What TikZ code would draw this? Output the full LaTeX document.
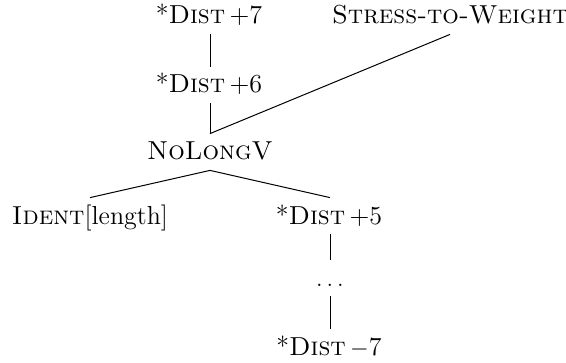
\documentclass[tikz,border=0pt]{standalone}
\begin{document}
\begin{tikzpicture}[x=0.5pt,y=-0.5pt,
  lab/.style={anchor=base,inner xsep=0pt,inner ysep=3pt,text height=10pt,text depth=2pt,font=\fontsize{13}{15}\selectfont},
  edge/.style={draw=black,line width=0.5pt}]
\useasboundingbox (0,0) rectangle (566,363);
\node[lab] (d7) at (209,24) {*\textsc{Dist}\,+7};
\node[lab] (sw) at (450,24) {\textsc{Stress-to-Weight}};
\node[lab] (d6) at (209,93) {*\textsc{Dist}\,+6};
\node[lab] (nl) at (210,160) {\textsc{NoLongV}};
\node[lab] (id) at (90,224) {\textsc{Ident}[length]};
\node[lab] (d5) at (329,224) {*\textsc{Dist}\,+5};
\node[lab] (dots) at (330,286) {$\ldots$};
\node[lab] (dm7) at (329,355) {*\textsc{Dist}\,$-$7};
\coordinate (d7s) at (d7.south -| 210,0);
\coordinate (d6n) at (d6.north -| 210,0);
\coordinate (d6s) at (d6.south -| 210,0);
\coordinate (d5s) at (d5.south -| 330,0);
\coordinate (d5n) at (d5.north -| 330,0);
\coordinate (dm7n) at (dm7.north -| 330,0);
\path[edge] (d7s) -- (d6n);
\path[edge] (d6s) -- (nl.north);
\path[edge] (sw.south) -- (nl.north);
\path[edge] (nl.south) -- (id.north);
\path[edge] (nl.south) -- (d5n);
\path[edge] (d5s) -- (dots.north);
\path[edge] (dots.south) -- (dm7n);
\end{tikzpicture}
\end{document}
